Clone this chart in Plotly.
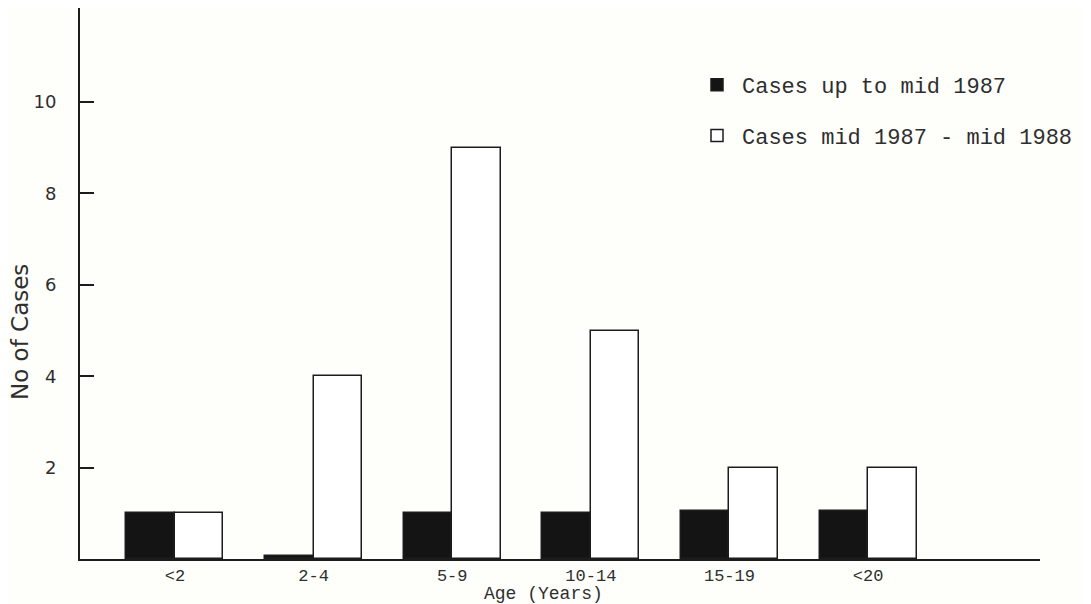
import plotly.graph_objects as go

categories = ["<2", "2-4", "5-9", "10-14", "15-19", "<20"]
cases_up_to_mid_1987 = [1, 0.07, 1, 1, 1.05, 1.05]
cases_mid_1987_to_mid_1988 = [1, 4, 9, 5, 2, 2]
y_tick_values = [2, 4, 6, 8, 10]

xpos = list(range(len(categories)))
bw = 0.35
ink = "#1c1c1c"
txt = "#2e2e2e"

# page body has an 8px margin, so figure is sized/placed to compensate
W, H = 1083, 596
L, R, T, B = 72, 51, 0, 45
pw, ph = W - L - R, H - T - B

fig = go.Figure()
fig.add_trace(go.Bar(
    x=xpos, y=cases_up_to_mid_1987, name="Cases up to mid 1987",
    width=bw, offset=-bw, legendgroup="a",
    marker=dict(color="#141414", line=dict(color=ink, width=1.5)),
))
fig.add_trace(go.Bar(
    x=xpos, y=cases_mid_1987_to_mid_1988, name="Cases mid 1987 - mid 1988",
    width=bw, offset=0, legendgroup="b",
    marker=dict(color="white", line=dict(color=ink, width=1.5)),
))

fig.update_layout(
    width=W, height=H,
    margin=dict(l=L, r=R, t=T, b=B, autoexpand=False),
    paper_bgcolor="#fefefb", plot_bgcolor="#fefefb",
    showlegend=True,
    legend=dict(x=(684 - L) / pw, y=1 - 56 / ph, xanchor="left", yanchor="top",
                font=dict(family="Liberation Mono", size=22, color=txt),
                bgcolor="rgba(0,0,0,0)", tracegroupgap=19, itemwidth=40,
                traceorder="grouped"),
    bargap=0,
    font=dict(family="DejaVu Sans", color=txt),
)
fig.update_xaxes(
    range=[-0.685, 6.24], tickmode="array", tickvals=xpos, ticktext=categories,
    showgrid=False, zeroline=False, showline=True, linecolor=ink, linewidth=2,
    ticks="", ticklabelstandoff=0,
    tickfont=dict(family="Liberation Mono", size=17, color=txt),
)
fig.update_yaxes(
    range=[0, 12.06], tickmode="array", tickvals=y_tick_values,
    showgrid=False, zeroline=False, showline=True, linecolor=ink, linewidth=2,
    ticks="inside", ticklen=14, tickwidth=1.5, tickcolor=ink,
    ticklabelstandoff=18,
    tickfont=dict(family="DejaVu Sans", size=18, color=txt),
)
fig.add_annotation(text="No of Cases", textangle=-90, xref="paper", yref="paper",
                   x=(12 - L) / pw, y=(551 - 324) / ph, xanchor="center", yanchor="middle",
                   showarrow=False,
                   font=dict(family="DejaVu Sans", size=23, color=txt))
fig.add_annotation(text="Age (Years)", xref="paper", yref="paper",
                   x=(474 - L) / pw, y=-(586 - 551) / ph, xanchor="left", yanchor="middle",
                   showarrow=False,
                   font=dict(family="Liberation Mono", size=18, color=txt))

fig.write_html("out.html")
